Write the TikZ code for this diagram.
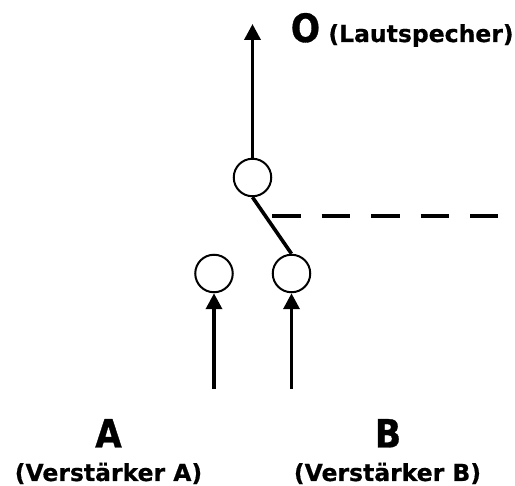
\documentclass[tikz,border=0pt]{standalone}
\usepackage{fontspec}
\setmainfont{DejaVu Sans}
\newfontface\headfont{DejaVu Sans Bold}[FakeStretch=0.88,FakeBold=0.8]
\newfontface\notefont{DejaVu Sans Bold}[FakeBold=0.6]
\usetikzlibrary{arrows.meta}
\tikzset{
  contact/.style={draw,circle,line width=2pt,minimum size=37.5pt,inner sep=0pt},
  signal/.style={line width=3.6pt,-{Triangle[width=16pt,length=16pt]}},
  biglabel/.style={font=\fontsize{39}{39}\headfont,anchor=base,inner sep=0pt},
  smalllabel/.style={font=\fontsize{23.5}{24}\notefont,anchor=base,inner sep=0pt},
}

\begin{document}
\begin{tikzpicture}[x=1pt,y=-1pt]
\useasboundingbox (0,0) rectangle (515,486);

\node[contact] (C) at (252.5,177.5) {};
\node[contact] (A) at (214,273.5) {};
\node[contact] (B) at (291.5,273.5) {};

\coordinate (out) at (252.5,24);
\coordinate (inA) at (214,389);
\coordinate (inB) at (291.5,389);
\coordinate (dashL) at (272,216);
\coordinate (dashR) at (498,216);

\draw[signal] (C.north)--(out);
\draw[signal] (inA)--(A.south);
\draw[signal] (inB)--(B.south);
\draw[line width=3.6pt] (C.south)--(B.north);
\draw[line width=4pt,dash pattern=on 28.5pt off 21pt] (dashL)--(dashR);

\node[biglabel] (O) at (305.5,42) {O};
\node[smalllabel] (Ot) at (421,42) {(Lautspecher)};
\node[biglabel] (Al) at (108.5,447.5) {A};
\node[biglabel] (Bl) at (388,447.5) {B};
\node[smalllabel] (At) at (108.5,481) {(Verstärker A)};
\node[smalllabel] (Bt) at (387.5,481) {(Verstärker B)};
\end{tikzpicture}
\end{document}
